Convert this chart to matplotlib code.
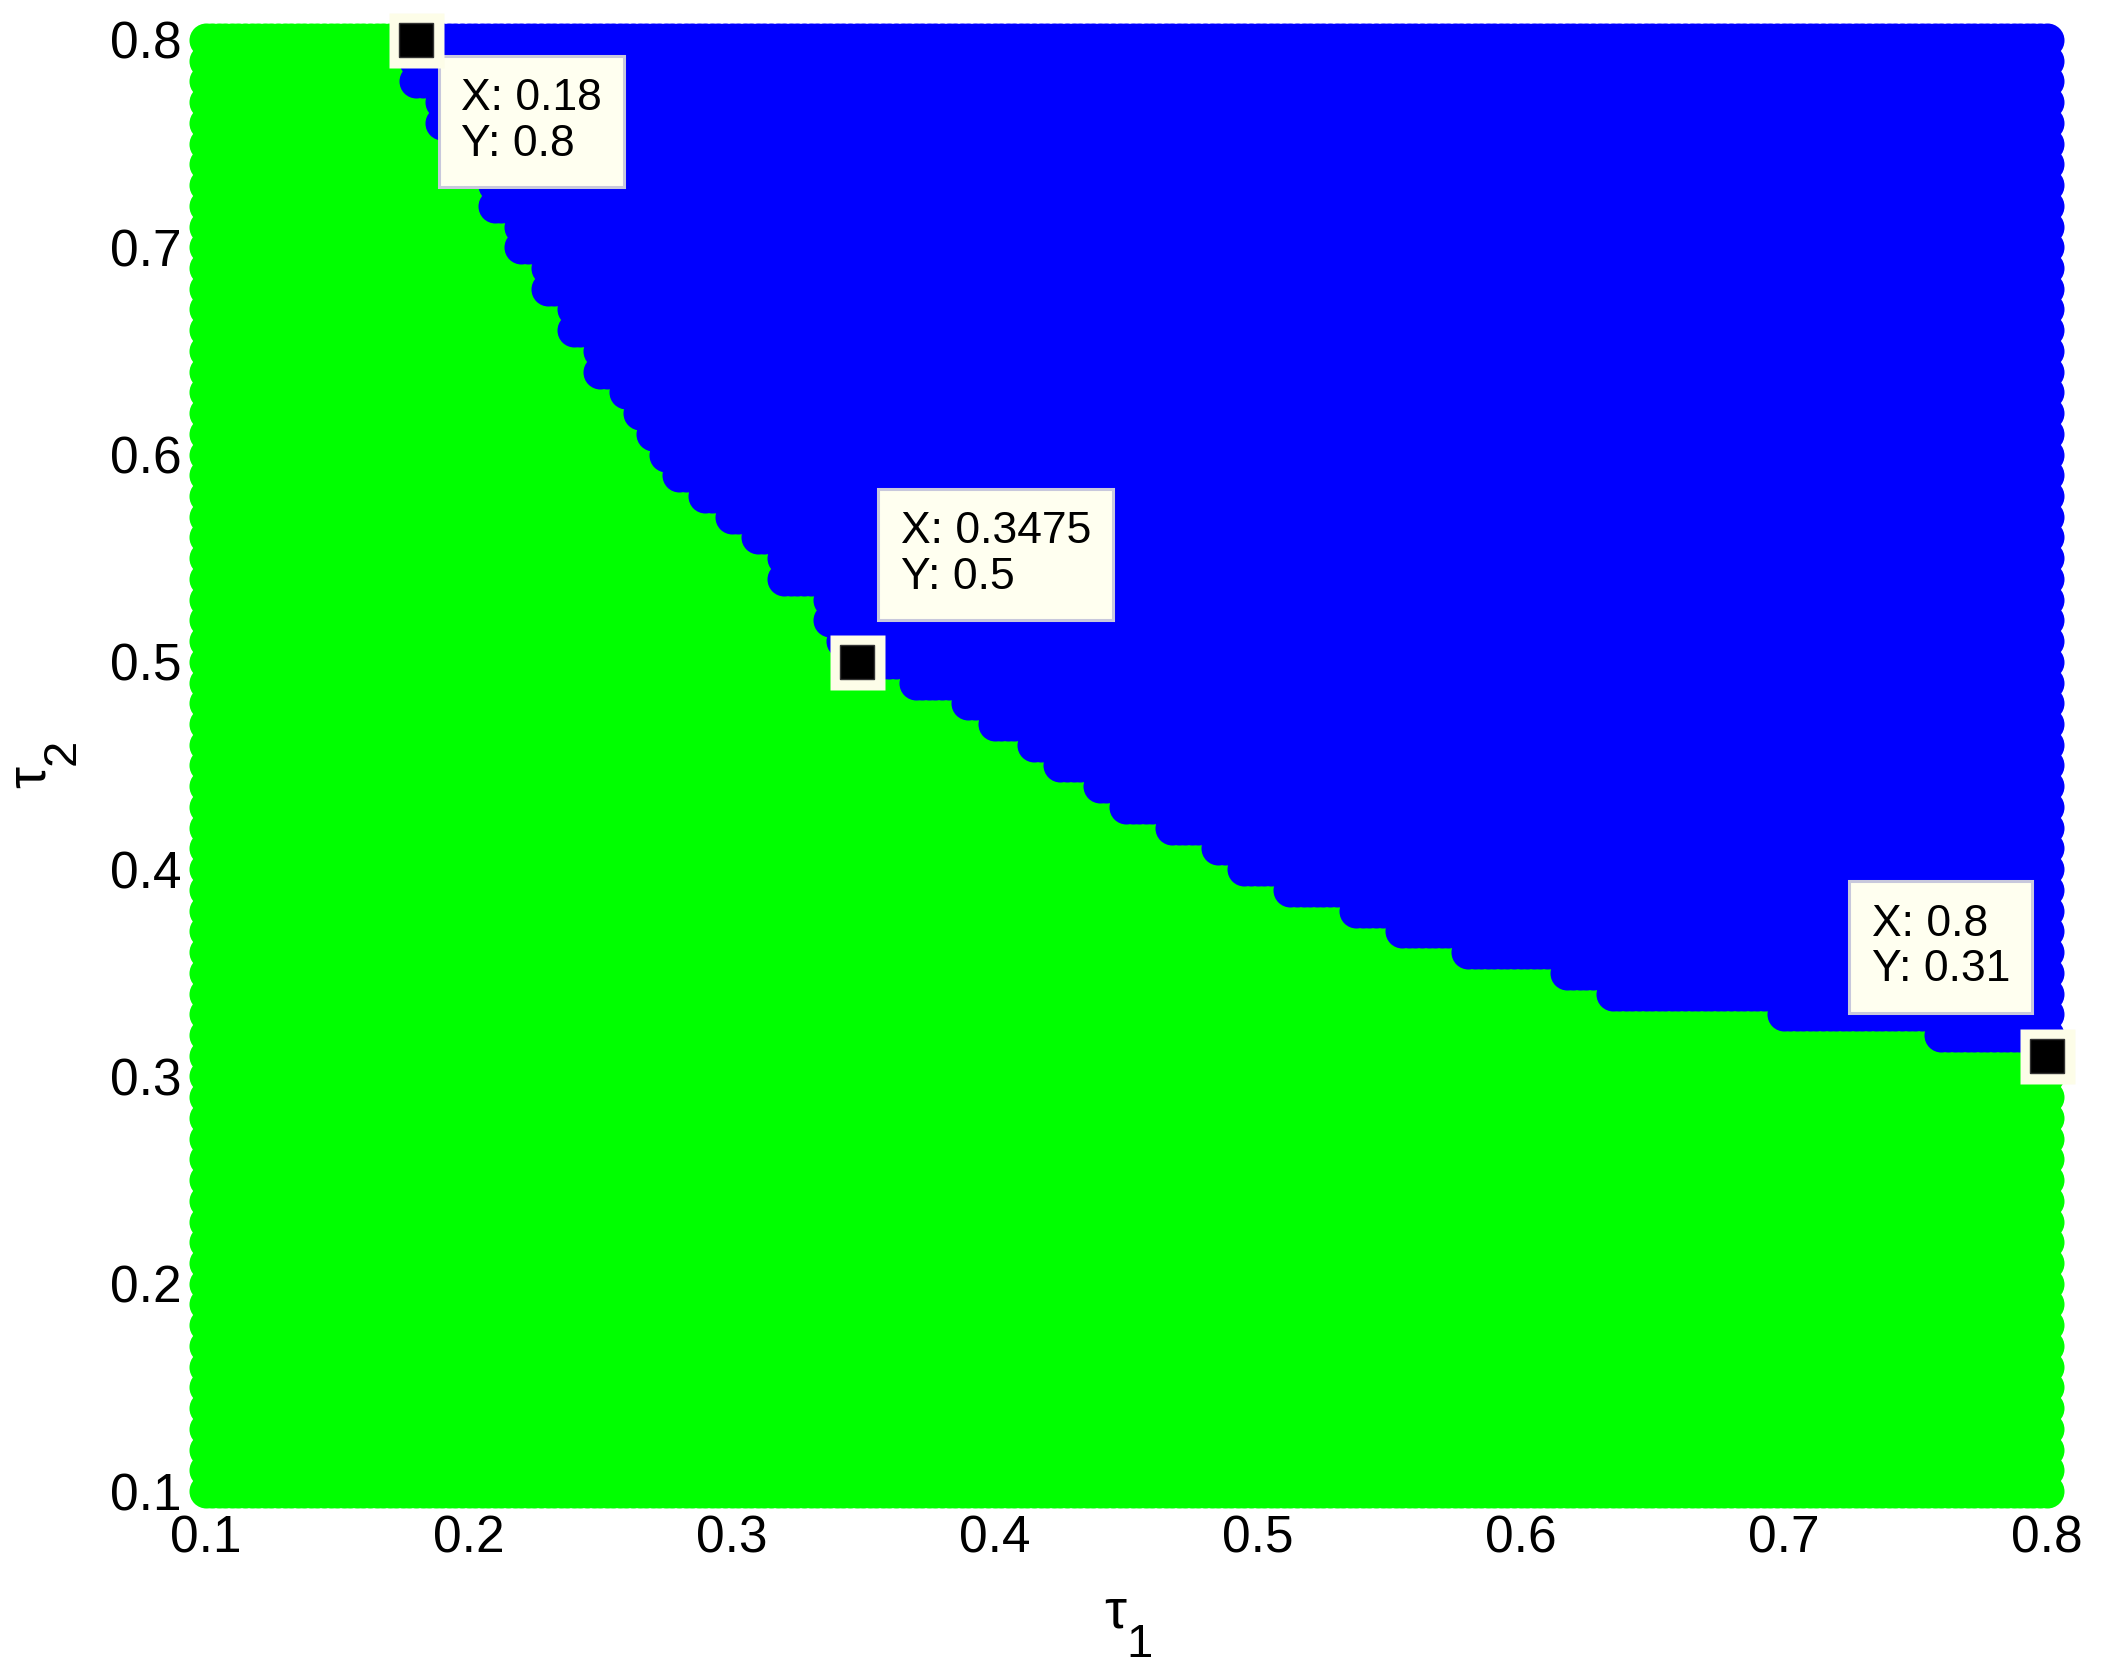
import numpy as np
import matplotlib
matplotlib.use("Agg")
import matplotlib.pyplot as plt

plt.rcParams['font.family'] = ['Liberation Sans', 'DejaVu Sans']

# ---- sampling grid of the parameter plane ----
tau1_start, tau1_stop, tau1_step = 0.1, 0.8, 0.0025
tau2_start, tau2_stop, tau2_step = 0.1, 0.8, 0.01

# ---- boundary: for each tau2 row, first tau1 that is unstable (blue) ----
boundary_tau2 = [0.80, 0.79, 0.78, 0.77, 0.76, 0.75, 0.74, 0.73, 0.72, 0.71,
                 0.70, 0.69, 0.68, 0.67, 0.66, 0.65, 0.64, 0.63, 0.62, 0.61,
                 0.60, 0.59, 0.58, 0.57, 0.56, 0.55, 0.54, 0.53, 0.52, 0.51,
                 0.50, 0.49, 0.48, 0.47, 0.46, 0.45, 0.44, 0.43, 0.42, 0.41,
                 0.40, 0.39, 0.38, 0.37, 0.36, 0.35, 0.34, 0.33, 0.32]
boundary_tau1 = [0.18, 0.18, 0.18, 0.19, 0.19, 0.20, 0.20, 0.21, 0.21, 0.22,
                 0.22, 0.23, 0.23, 0.24, 0.24, 0.25, 0.25, 0.26, 0.265, 0.27,
                 0.275, 0.28, 0.29, 0.30, 0.31, 0.32, 0.32, 0.3375, 0.3375, 0.3425,
                 0.35, 0.37, 0.39, 0.40, 0.415, 0.425, 0.44, 0.45, 0.4675, 0.485,
                 0.495, 0.5125, 0.5375, 0.555, 0.58, 0.6175, 0.635, 0.70, 0.76]

# ---- data tips ----
tip_x = [0.18, 0.3475, 0.8]
tip_y = [0.8, 0.5, 0.31]
tip_text = ["X: 0.18\nY: 0.8", "X: 0.3475\nY: 0.5", "X: 0.8\nY: 0.31"]

tick_values = [0.1, 0.2, 0.3, 0.4, 0.5, 0.6, 0.7, 0.8]
tick_labels = ["0.1", "0.2", "0.3", "0.4", "0.5", "0.6", "0.7", "0.8"]

stable_color = "#00ff00"
unstable_color = "#0000ff"

# ---- build classification ----
tau1 = np.round(np.arange(tau1_start, tau1_stop + tau1_step / 2, tau1_step), 4)
tau2 = np.round(np.arange(tau2_start, tau2_stop + tau2_step / 2, tau2_step), 4)
T1, T2 = np.meshgrid(tau1, tau2)
thr_map = {round(a, 4): b for a, b in zip(boundary_tau2, boundary_tau1)}
thr = np.array([thr_map.get(round(v, 4), np.inf) for v in tau2])
unstable = T1 >= (thr[:, None] - 1e-9)

W, H = 2104, 1669
fig = plt.figure(figsize=(W / 100, H / 100), dpi=100)
ax_l, ax_r, ax_t, ax_b = 205.6, 2046.6, 40.0, 1491.0
ax = fig.add_axes([ax_l / W, (H - ax_b) / H, (ax_r - ax_l) / W, (ax_b - ax_t) / H])

ms = 600
ax.scatter(T1[~unstable], T2[~unstable], s=ms, c=stable_color, marker='o',
           linewidths=0, clip_on=False, zorder=2)
ax.scatter(T1[unstable], T2[unstable], s=ms, c=unstable_color, marker='o',
           linewidths=0, clip_on=False, zorder=3)

ax.set_xlim(0.1, 0.8)
ax.set_ylim(0.1, 0.8)
ax.set_xticks(tick_values)
ax.set_xticklabels(tick_labels)
ax.set_yticks(tick_values)
ax.set_yticklabels(tick_labels)
ax.tick_params(axis='both', length=0, labelsize=37)
ax.tick_params(axis='x', pad=17)
ax.tick_params(axis='y', pad=17)
for s in ax.spines.values():
    s.set_visible(False)

# ---- data tips ----
offsets = [(32.5, -27.5), (31.7, 108.5), (-126.0, 109.5)]
for x, y, t, off in zip(tip_x, tip_y, tip_text, offsets):
    ax.annotate(t, xy=(x, y), xytext=off, textcoords='offset points',
                ha='left', va='top', fontsize=32, linespacing=1.15,
                bbox=dict(boxstyle='square,pad=0.5', fc='#fffff0', ec='#c8c8dc', lw=2.2),
                zorder=5, annotation_clip=False)
    ax.plot([x], [y], marker='s', ms=39.6, color='#fdfde8', mec='none',
            clip_on=False, zorder=6)
    ax.plot([x], [y], marker='s', ms=23.8, color='black', mec='#333333', mew=1,
            clip_on=False, zorder=7)

# ---- axis labels (tau with subscripts) ----
fig.text(1115 / W, (H - 1627) / H, "τ", fontsize=40, ha='center', va='baseline')
fig.text(1139 / W, (H - 1657) / H, "1", fontsize=34, ha='center', va='baseline')
fig.text(45 / W, (H - 777) / H, "τ", fontsize=40, ha='center', va='baseline',
         rotation=90, rotation_mode='anchor')
fig.text(75 / W, (H - 752) / H, "2", fontsize=34, ha='center', va='baseline',
         rotation=90, rotation_mode='anchor')

fig.savefig("out.png", dpi=100, facecolor='white')
